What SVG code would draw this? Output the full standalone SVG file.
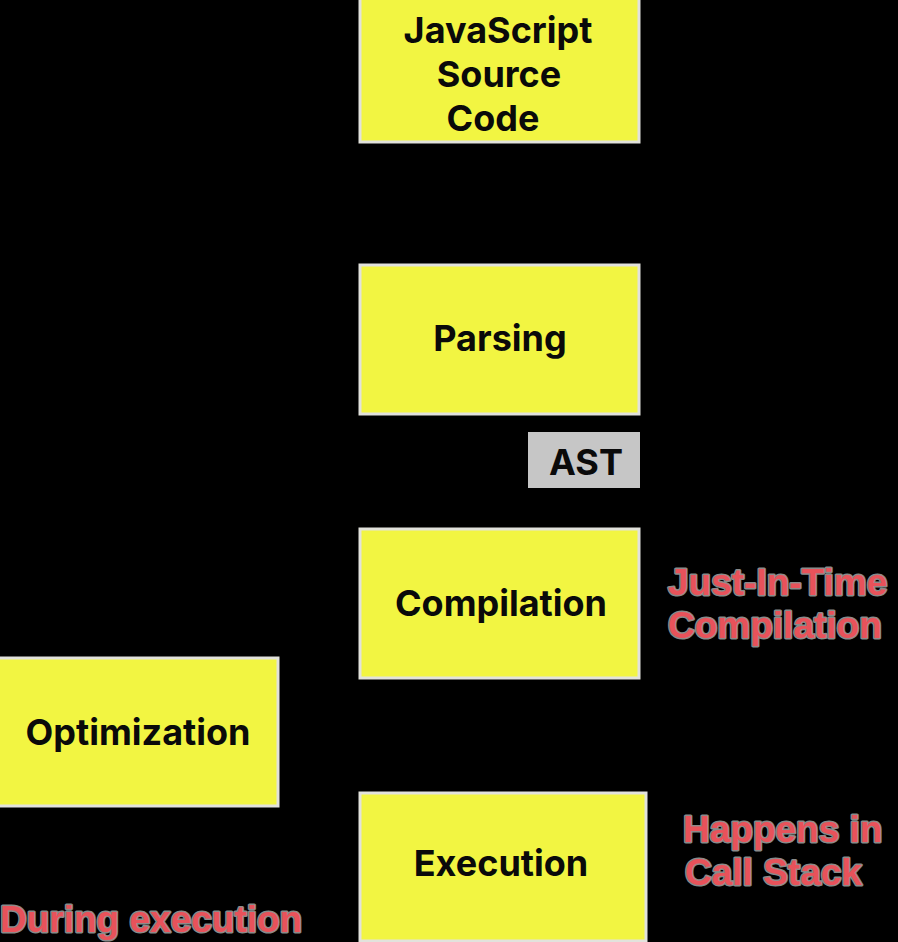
<svg xmlns="http://www.w3.org/2000/svg" width="898" height="942" viewBox="0 0 898 942">
<defs>
<style>
.box{fill:#f2f542;stroke:#e2e2dc;stroke-width:3}
.lbl{font-family:Inter,"Liberation Sans",sans-serif;font-weight:700;font-size:36px;fill:#0a0a0a;text-anchor:middle}
.note{font-family:"Liberation Sans",Arial,sans-serif;font-weight:700;font-size:37px;fill:#e8525a;stroke:#8a8a8a;stroke-width:3;paint-order:stroke;stroke-linejoin:round}
.conn{stroke:#000;stroke-width:2;fill:none}
</style>
<marker id="ah" markerWidth="10" markerHeight="10" refX="9" refY="5" orient="auto"><path d="M0,0L10,5L0,10z" fill="#000"/></marker>
</defs>
<rect width="898" height="942" fill="#000"/>
<g id="connectors">
<path class="conn" d="M499,143V262" marker-end="url(#ah)"/>
<path class="conn" d="M499,415V526" marker-end="url(#ah)"/>
<path class="conn" d="M499,679V790" marker-end="url(#ah)"/>
<path class="conn" d="M360,860H280" marker-end="url(#ah)"/>
<path class="conn" d="M280,720H358" marker-end="url(#ah)"/>
</g>
<g id="source">
<rect class="box" x="360" y="-2" width="279" height="144"/>
<text class="lbl" x="498" y="43">JavaScript</text>
<text class="lbl" x="499" y="87">Source</text>
<text class="lbl" x="493" y="131">Code</text>
</g>
<g id="parsing">
<rect class="box" x="360" y="265" width="279" height="149"/>
<text class="lbl" x="500" y="351">Parsing</text>
</g>
<g id="ast">
<rect x="528" y="432" width="112" height="56" fill="#c6c6c6"/>
<text class="lbl" x="586" y="475">AST</text>
</g>
<g id="compilation">
<rect class="box" x="360" y="529" width="279" height="149"/>
<text class="lbl" x="501" y="616">Compilation</text>
</g>
<g id="optimization">
<rect class="box" x="-2" y="658" width="280" height="148"/>
<text class="lbl" x="138" y="745">Optimization</text>
</g>
<g id="execution">
<rect class="box" x="360" y="793" width="286" height="148"/>
<text class="lbl" x="501" y="876">Execution</text>
</g>
<g id="notes">
<text class="note" x="668" y="595" font-size="40">Just-In-Time</text>
<text class="note" x="668" y="638" font-size="40">Compilation</text>
<text class="note" x="683" y="842">Happens in</text>
<text class="note" x="685" y="885">Call Stack</text>
<text class="note" x="0" y="932" font-size="38">During execution</text>
</g>
</svg>
